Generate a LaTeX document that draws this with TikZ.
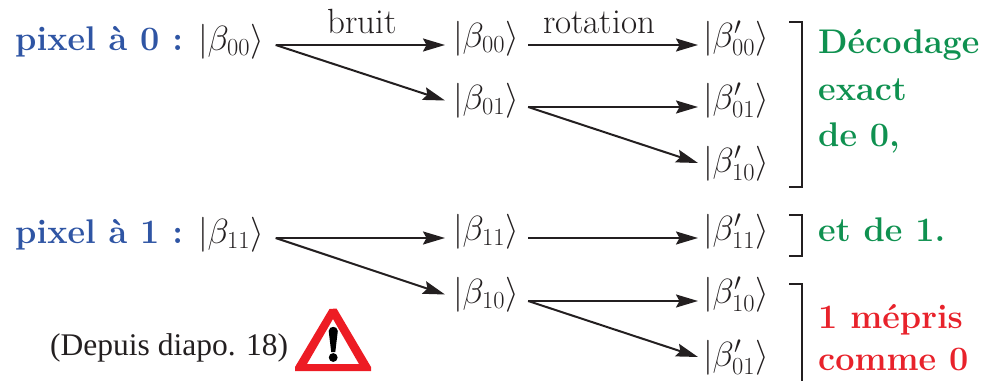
\RequirePackage{fix-cm}
\documentclass[tikz,border=0pt]{standalone}
\usepackage{fontspec}
\newfontfamily\depuisfont{Liberation Serif}
\usetikzlibrary{arrows.meta}
\definecolor{inkc}{HTML}{231F20}
\definecolor{bluec}{HTML}{2F55A4}
\definecolor{greenc}{HTML}{0F9150}
\definecolor{redc}{HTML}{E8222B}
\definecolor{signc}{HTML}{ED1C24}
\tikzset{
  ket/.style={anchor=west,inner xsep=0pt,outer sep=0pt,inner ysep=0pt,text=inkc,
    text height=20pt,text depth=16pt,font=\fontsize{35}{42}\selectfont},
  conn/.style={draw=inkc,line width=2pt,-{Stealth[length=22pt,width=13pt,inset=3.5pt]}},
  brak/.style={draw=inkc,line width=2pt,miter limit=10},
  lab/.style={anchor=base,text=inkc,inner sep=0pt,font=\fontsize{35}{42}\selectfont},
  pix/.style={anchor=base west,text=bluec,inner sep=0pt,font=\fontsize{34.2}{41}\bfseries\selectfont},
  good/.style={anchor=base west,text=greenc,inner sep=0pt,font=\fontsize{34.2}{41}\bfseries\selectfont},
  bad/.style={anchor=base west,text=redc,inner sep=0pt,font=\fontsize{34.2}{41}\bfseries\selectfont},
}
\newcommand{\kt}[1]{$|\beta_{#1}\rangle$}
\newcommand{\ktp}[1]{$|\beta'_{#1}\rangle$}
\begin{document}
\begin{tikzpicture}[x=1pt,y=-1pt]
\useasboundingbox (0,0) rectangle (982,380);
% column 1
\node[ket] (a0) at (198,48) {\kt{00}};
\node[ket] (a1) at (198,241) {\kt{11}};
% column 2
\node[ket] (b0) at (453,45) {\kt{00}};
\node[ket] (b1) at (453,107) {\kt{01}};
\node[ket] (b2) at (453,238) {\kt{11}};
\node[ket] (b3) at (453,301) {\kt{10}};
% column 3
\node[ket] (c0) at (703,45) {\ktp{00}};
\node[ket] (c1) at (703,107) {\ktp{01}};
\node[ket] (c2) at (703,170) {\ktp{10}};
\node[ket] (c3) at (703,238) {\ktp{11}};
\node[ket] (c4) at (703,301) {\ktp{10}};
\node[ket] (c5) at (703,364) {\ktp{01}};
% connectors
\draw[conn] ([xshift=12pt,yshift=3pt]a0.east) -- ([xshift=-8pt]b0.west);
\draw[conn] ([xshift=12pt,yshift=3pt]a0.east) -- ([xshift=-8pt,yshift=6.5pt]b1.west);
\draw[conn] ([xshift=12pt,yshift=3pt]a1.east) -- ([xshift=-8pt]b2.west);
\draw[conn] ([xshift=12pt,yshift=3pt]a1.east) -- ([xshift=-8pt,yshift=6.5pt]b3.west);
\draw[conn] ([xshift=9.5pt]b0.east) -- ([xshift=-5pt]c0.west);
\draw[conn] ([xshift=9.5pt]b1.east) -- ([xshift=-5pt]c1.west);
\draw[conn] ([xshift=9.5pt]b1.east) -- ([xshift=-5pt,yshift=7pt]c2.west);
\draw[conn] ([xshift=9.5pt]b2.east) -- ([xshift=-5pt]c3.west);
\draw[conn] ([xshift=9.5pt]b3.east) -- ([xshift=-5pt]c4.west);
\draw[conn] ([xshift=9.5pt]b3.east) -- ([xshift=-5pt,yshift=7pt]c5.west);
% labels
\node[lab] (bruit) at (362,33) {bruit};
\node[lab] (rot) at (599,33) {rotation};
\node[pix] (p0) at (15,50) {pixel à 0 :};
\node[pix] (p1) at (15,243) {pixel à 1 :};
% brackets
\draw[brak] (789,22) -- (802,22) -- (802,187) -- (789,187);
\draw[brak] (789,215) -- (802,215) -- (802,256) -- (789,256);
\draw[brak] (789,284) -- (802,284) -- (802,385) -- (789,385);
% outcome text
\node[good] (t1) at (818,53) {Décodage};
\node[good] (t2) at (818,100) {exact};
\node[good] (t3) at (818,146) {de 0,};
\node[good] (t4) at (818,241) {et de 1.};
\node[bad] (t5) at (818,328) {1 mépris};
\node[bad] (t6) at (818,370) {comme 0};
\node[anchor=base west,inner sep=0pt,text=inkc,font=\fontsize{31.5}{38}\depuisfont] (dep) at (50,355) {(Depuis diapo. 18)};
% warning triangle
\fill[signc,even odd rule] (295,371) -- (295,367) -- (329.5,309) -- (336.5,308.5) -- (371,367) -- (371,371) -- cycle
  (307,364) -- (333,319) -- (359,364) -- cycle;
\fill[black] (328.7,331) .. controls (329,325.5) and (337.5,325.5) .. (337.8,331) -- (335.3,352) -- (331.2,352) -- cycle;
\fill[black] (333.2,357.5) circle (4.4);
\end{tikzpicture}
\end{document}
